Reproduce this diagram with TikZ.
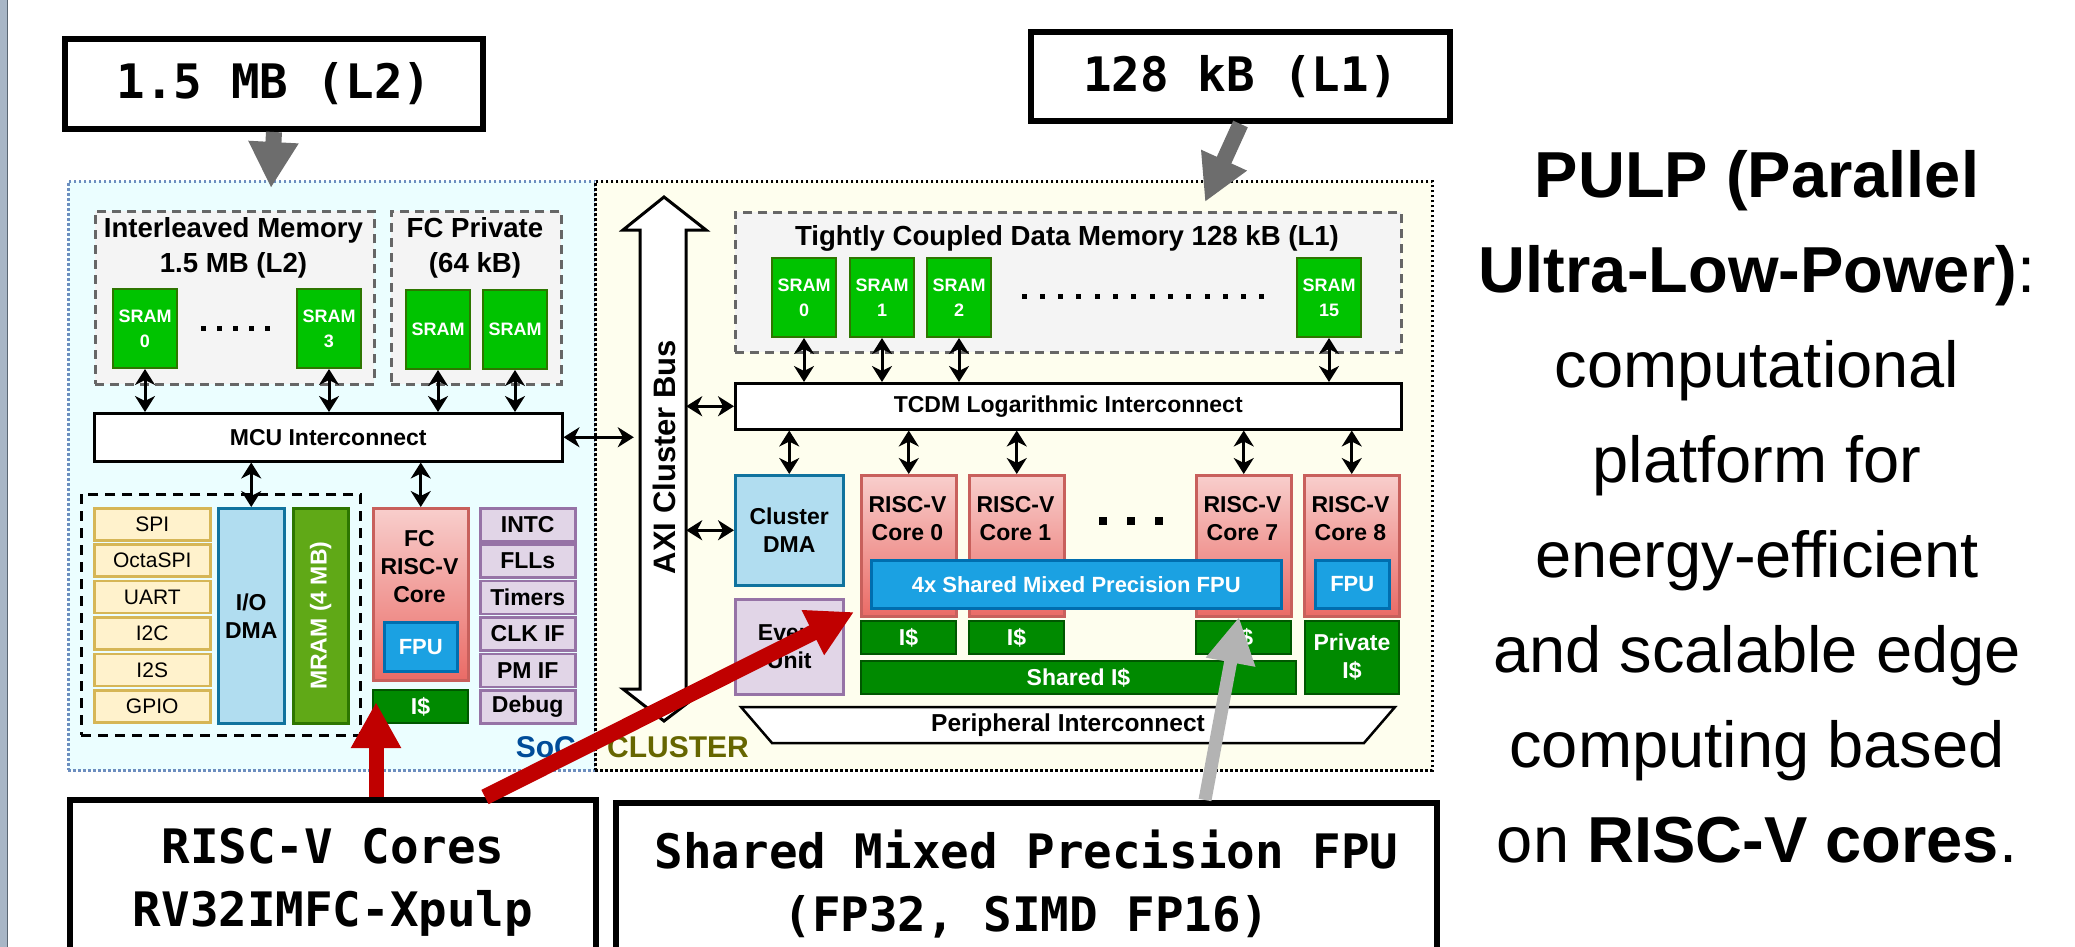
\documentclass[tikz,border=0pt]{standalone}
\usepackage{fontspec}
\setmainfont{Liberation Sans}
\newfontfamily\tagmono{DejaVu Sans Mono}
\usetikzlibrary{arrows.meta, positioning}
\definecolor{stripblue}{HTML}{A8B6C6}
\definecolor{stripline}{HTML}{5A6672}
\definecolor{socfill}{HTML}{EBFEFF}
\definecolor{socline}{HTML}{6C8EBF}
\definecolor{clfill}{HTML}{FEFEEE}
\definecolor{memfill}{HTML}{F4F4F4}
\definecolor{memline}{HTML}{666666}
\definecolor{sramgreen}{HTML}{00C300}
\definecolor{sramline}{HTML}{2D7600}
\definecolor{icgreen}{HTML}{008A00}
\definecolor{icline}{HTML}{005700}
\definecolor{mramgreen}{HTML}{60A917}
\definecolor{coretop}{HTML}{F8CECC}
\definecolor{corebot}{HTML}{EA6B66}
\definecolor{coreline}{HTML}{C8605C}
\definecolor{fpublue}{HTML}{1BA1E2}
\definecolor{fpuline}{HTML}{006EAF}
\definecolor{dmafill}{HTML}{B1DDF0}
\definecolor{dmaline}{HTML}{10739E}
\definecolor{purfill}{HTML}{E1D5E7}
\definecolor{purline}{HTML}{9673A6}
\definecolor{yelfill}{HTML}{FFF2CC}
\definecolor{yelline}{HTML}{D6B656}
\definecolor{socblue}{HTML}{004C99}
\definecolor{clolive}{HTML}{666600}
\definecolor{pulpred}{HTML}{C00000}
\definecolor{darkgrey}{HTML}{6D6D6D}
\definecolor{lightgrey}{HTML}{B3B3B3}
\newcommand{\lblfont}{\fontsize{23}{28}\selectfont\bfseries}
\tikzstyle{blk}=[draw, inner sep=0pt, anchor=north west, align=center]
\tikzstyle{area}=[blk, line width=2.5pt, dash pattern=on 2.5pt off 2.5pt]
\tikzstyle{tagbox}=[blk, draw=black, fill=white, line width=6pt, font=\tagmono\fontsize{47.5}{63}\selectfont\bfseries]
\tikzstyle{memgroup}=[blk, draw=memline, fill=memfill, line width=2.5pt, dash pattern=on 9pt off 6pt]
\tikzstyle{grouptitle}=[align=center, inner sep=0pt, font=\fontsize{27.6}{35}\selectfont\bfseries]
\tikzstyle{sram}=[blk, draw=sramline, fill=sramgreen, line width=2pt, minimum width=64pt, minimum height=79pt, text=white, font=\fontsize{18}{25}\selectfont\bfseries]
\tikzstyle{xbar}=[blk, draw=black, fill=white, line width=2.5pt, font=\lblfont]
\tikzstyle{periph}=[blk, draw=yelline, fill=yelfill, line width=2.5pt, minimum width=116pt, minimum height=32pt, font=\fontsize{21}{24}\selectfont]
\tikzstyle{ctrl}=[blk, draw=purline, fill=purfill, line width=2.5pt, minimum width=95pt, minimum height=33pt, font=\lblfont]
\tikzstyle{dma}=[blk, draw=dmaline, fill=dmafill, line width=2.5pt, font=\lblfont]
\tikzstyle{mram}=[blk, draw=sramline, fill=mramgreen, line width=2.5pt]
\tikzstyle{core}=[blk, draw=coreline, top color=coretop, bottom color=corebot, line width=2.5pt, minimum width=95pt, minimum height=141pt]
\tikzstyle{fpu}=[blk, draw=fpuline, fill=fpublue, line width=2.5pt, text=white, font=\fontsize{22}{26}\selectfont\bfseries]
\tikzstyle{icache}=[blk, draw=icline, fill=icgreen, line width=2pt, text=white, font=\lblfont]
\tikzstyle{lbl}=[align=center, inner sep=0pt, font=\lblfont]
\tikzstyle{bidir}=[{Stealth[length=16pt,width=20pt,inset=5pt]}-{Stealth[length=16pt,width=20pt,inset=5pt]}, line width=3pt]
\tikzstyle{bigarrow}=[-{Triangle[length=46pt,width=47pt]}]

\begin{document}
\begin{tikzpicture}[x=1pt,y=-1pt]
\useasboundingbox (0,0) rectangle (2075,947);
\fill[white] (0,0) rectangle (2075,947);
\fill[stripblue] (0,0) rectangle (7,947);
\draw[stripline, line width=1.5pt] (7.5,0) -- (7.5,947);
%regions
\node[area, draw=socline, fill=socfill, minimum width=527pt, minimum height=589pt] (soc) at (67,180) {};
\node[area, draw=black, fill=clfill, minimum width=837pt, minimum height=589pt] (cluster) at (594,180) {};
\node[tagbox, minimum width=418pt, minimum height=90pt] (l2tag) at (62,36) {1.5 MB (L2)};
\node[tagbox, minimum width=419pt, minimum height=89pt] (l1tag) at (1028,29) {128 kB (L1)};
%soc memories
\node[memgroup, minimum width=279pt, minimum height=173pt] (l2mem) at (94,210) {};
\node[grouptitle] (l2title) at (233.5,248) {Interleaved Memory\\1.5 MB (L2)};
\node[memgroup, minimum width=170pt, minimum height=173pt] (fcmem) at (390,210) {};
\node[grouptitle] (fctitle) at (475,248) {FC Private\\(64 kB)};
\foreach \x/\n in {112/0,296/3}{
\node[sram] (ls\n) at (\x,288) {SRAM\\\n};
}
\foreach \x in {203,219,235,251,267} \fill (\x-2.5,325.5) rectangle +(5,5);
\node[sram] (fs1) at (405,289) {SRAM};
\node[sram] (fs2) at (482,289) {SRAM};
\node[xbar, minimum width=468pt, minimum height=48pt] (mcu) at (93,412) {MCU Interconnect};
\foreach \s in {ls0,ls3,fs1,fs2} \draw[bidir] (\s.south) -- (\s.south |- mcu.north);
%soc peripherals
\node[blk, line width=2.5pt, dash pattern=on 10pt off 7pt, minimum width=279pt, minimum height=241pt] (iogroup) at (80,493) {};
\foreach \t [count=\i from 0] in {SPI,OctaSPI,UART,I2C,I2S,GPIO}
\node[periph] (p\i) at (93,507+36.4*\i) {\t};
\node[dma, minimum width=66pt, minimum height=215pt] (iodma) at (217,507) {I/O\\DMA};
\node[mram, minimum width=55pt, minimum height=215pt] (mram) at (292,507) {};
\node[rotate=90, text=white, inner sep=0pt, font=\lblfont] (mramtxt) at (mram.center) {MRAM (4 MB)};
\node[core, minimum height=172pt] (fccore) at (372,507) {};
\node[lbl] (fctxt) at (419.5,567) {FC\\RISC-V\\Core};
\node[fpu, minimum width=73pt, minimum height=49pt] (fcfpu) at (383,621) {FPU};
\node[icache, minimum width=95pt, minimum height=33pt] (fcic) at (372,689) {I\$};
\foreach \t [count=\i from 0] in {INTC,FLLs,Timers,CLK IF,PM IF,Debug}
\node[ctrl] (k\i) at (479,507+36.4*\i) {\t};
\draw[bidir] (iodma.north |- mcu.south) -- (iodma.north);
\draw[bidir] (fccore.north |- mcu.south) -- (fccore.north);
\node[anchor=east, inner sep=0pt, text=socblue, font=\fontsize{30}{36}\selectfont\bfseries] (soclbl) at (576,747) {SoC};
\node[anchor=west, inner sep=0pt, text=clolive, font=\fontsize{30}{36}\selectfont\bfseries] (cllbl) at (607,747) {CLUSTER};
%axi bus
\draw[line width=3pt, fill=white, line join=miter] (664,197) -- (706,230) -- (686,230) -- (686,689) -- (706,689) -- (664,721) -- (623,689) -- (640,689) -- (640,230) -- (623,230) -- cycle;
\node[inner sep=0pt, minimum width=46pt, minimum height=459pt] (axi) at (663,459.5) {};
\node[rotate=90, inner sep=0pt, font=\fontsize{31}{36}\selectfont\bfseries] (axitxt) at (664,457) {AXI Cluster Bus};
\draw[bidir, shorten >=6pt] (mcu.east) -- (mcu.east -| axi.west);
%cluster memory
\node[memgroup, minimum width=666pt, minimum height=140pt] (tcdm) at (734,211) {};
\node[grouptitle] (tcdmtitle) at (1067,238) {Tightly Coupled Data Memory 128 kB (L1)};
\foreach \x/\n in {771/0,849/1,926/2,1296/15}{
\node[sram] (ts\n) at (\x,257) {SRAM\\\n};
}
\foreach \i in {0,...,13} \fill (1021.5+18.3*\i,293.5) rectangle +(5,5);
\node[xbar, minimum width=666pt, minimum height=46pt] (tcdmic) at (734,382) {TCDM Logarithmic Interconnect};
\foreach \n in {0,1,2,15} \draw[bidir] (ts\n.south) -- (ts\n.south |- tcdmic.north);
\draw[bidir] (axi.east |- tcdmic.west) -- (tcdmic.west);
%cluster cores
\node[dma, minimum width=108pt, minimum height=110pt] (cdma) at (734,474) {Cluster\\DMA};
\node[ctrl, minimum width=108pt, minimum height=95pt] (evu) at (734,598) {Event\\Unit};
\draw[bidir] (axi.east |- cdma.west) -- (cdma.west);
\foreach \x/\n in {860/0,968/1,1195/7,1303/8}{
\node[core] (core\n) at (\x,474) {};
\node[lbl] (ct\n) at (\x+47.5,519) {RISC-V\\Core \n};
}
\foreach \c in {cdma,core0,core1,core7,core8} \draw[bidir] (\c.north |- tcdmic.south) -- (\c.north);
\foreach \x in {1103,1131,1159} \fill (\x-4,517) rectangle +(8,8);
\node[fpu, minimum width=410pt, minimum height=48pt] (sfpu) at (870,559) {4x Shared Mixed Precision FPU};
\node[fpu, minimum width=74pt, minimum height=48pt] (fpu8) at (1314,559) {FPU};
\foreach \x/\n in {860/0,968/1,1195/7}
\node[icache, minimum width=95pt, minimum height=33pt] (ic\n) at (\x,620) {I\$};
\node[icache, minimum width=435pt, minimum height=33pt] (sic) at (860,660) {Shared I\$};
\node[icache, minimum width=94pt, minimum height=73pt] (pic) at (1304,620) {Private\\I\$};
\draw[line width=2.5pt, fill=white] (741,707) -- (1395,707) -- (1364,743) -- (772,743) -- cycle;
\node[lbl, font=\fontsize{24.5}{28}\selectfont\bfseries] (perint) at (1068,725) {Peripheral Interconnect};
%bottom tags
\node[tagbox, minimum width=526pt, minimum height=164pt] (rvtag) at (67,797) {RISC-V Cores\\RV32IMFC-Xpulp};
\node[tagbox, minimum width=821pt, minimum height=162pt] (fputag) at (613,800) {Shared Mixed Precision FPU\\(FP32, SIMD FP16)};
%pointers
\coordinate (l2tip) at (271,188);
\coordinate (l1tip) at (1205,202);
\coordinate (fctip) at (376,702);
\coordinate (cltip) at (854,612);
\coordinate (fputip) at (1239,617);
\draw[darkgrey, line width=16pt, bigarrow] (l2tag.south) -- (l2tip);
\draw[darkgrey, line width=16pt, bigarrow] (l1tag.south) -- (l1tip);
\draw[pulpred, line width=15pt, bigarrow] (rvtag.north -| fctip) -- (fctip);
\draw[pulpred, line width=16pt, bigarrow] (rvtag.north west) ++(418,0) -- (cltip);
\draw[lightgrey, line width=13pt, bigarrow] (fputag.north west) ++(592,0) -- (fputip);
\node[align=center, inner sep=0pt, font=\fontsize{65}{95}\selectfont] (pulptxt) at (1757,507) {\textbf{PULP (Parallel}\\\textbf{Ultra-Low-Power)}:\\computational\\platform for\\energy-efficient\\and scalable edge\\computing based\\on \textbf{RISC-V cores}.};
\end{tikzpicture}
\end{document}
